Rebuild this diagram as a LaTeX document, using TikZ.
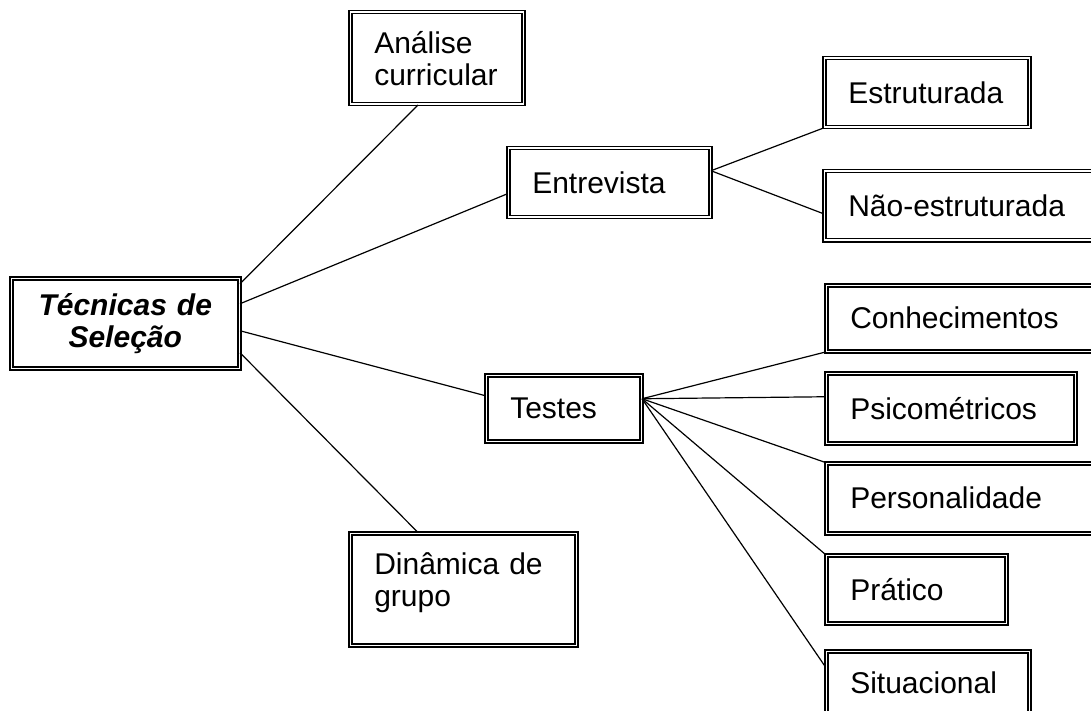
\documentclass[tikz,border=0pt]{standalone}
\usepackage{fontspec}
\setmainfont{Liberation Sans}
\usepackage{tikz}

\begin{document}
\begin{tikzpicture}[x=1pt, y=-1pt]
			%define block styles
			\tikzset{
				caixa/.style 2 args={rectangle, draw=black, line width=1.5pt, double, double distance=1.5pt, anchor=north west, inner xsep=3pt, inner ysep=0pt, text width=#1pt-6pt, minimum height=#2pt, align=left, font=\fontsize{30}{32}\selectfont, execute at begin node={\leftskip=21pt}},
				titulo/.style={execute at begin node={\centering}, font=\fontsize{30}{32}\selectfont\bfseries\itshape},
				ligacao/.style={line width=1.2pt},
			}
			\useasboundingbox (0,0) rectangle (1091,711);
			%define nodes
			\node[caixa={228}{90}, titulo](tec) at (10.5,277.5){Técnicas de\\Seleção};
			\node[caixa={173}{92}](ana) at (349.5,11.5){Análise\\curricular};
			\node[caixa={202}{69}](ent) at (507.5,147.5){Entrevista};
			\node[caixa={155}{66}](tes) at (485.5,374.5){Testes};
			\node[caixa={226}{112}, text depth=52pt](din) at (349.5,532.5){Dinâmica de\\grupo};
			\node[caixa={205}{69}](est) at (823.5,57.5){Estruturada};
			\node[caixa={272}{69}](nao) at (823.5,170.5){Não-estruturada};
			\node[caixa={270}{66}](con) at (825.5,284.5){Conhecimentos};
			\node[caixa={249}{70}](psi) at (825.5,372.5){Psicométricos};
			\node[caixa={270}{70}](per) at (825.5,462.5){Personalidade};
			\node[caixa={180}{68}](pra) at (825.5,554.5){Prático};
			\node[caixa={203}{63}](sit) at (825.5,650.5){Situacional};
			%define lines
			\draw[ligacao] ([yshift=39.5pt]tec.east) -- ([xshift=68.5pt]ana.south west);
			\draw[ligacao] ([yshift=19.5pt]tec.east) -- ([yshift=-11pt]ent.west);
			\draw[ligacao] ([yshift=-7.5pt]tec.east) -- ([yshift=12.5pt]tes.west);
			\draw[ligacao] ([yshift=-29.5pt]tec.east) -- ([xshift=68.5pt]din.north west);
			\draw[ligacao] ([yshift=12pt]ent.east) -- (est.south west);
			\draw[ligacao] ([yshift=12pt]ent.east) -- ([yshift=-8pt]nao.west);
			\draw[ligacao] ([yshift=9.5pt]tes.east) -- (con.south west);
			\draw[ligacao] ([yshift=9.5pt]tes.east) -- ([yshift=11.5pt]psi.west);
			\draw[ligacao] ([yshift=9.5pt]tes.east) -- (per.north west);
			\draw[ligacao] ([yshift=9.5pt]tes.east) -- (pra.north west);
			\draw[ligacao] ([yshift=9.5pt]tes.east) -- ([yshift=-16.5pt]sit.north west);
		\end{tikzpicture}
\end{document}
